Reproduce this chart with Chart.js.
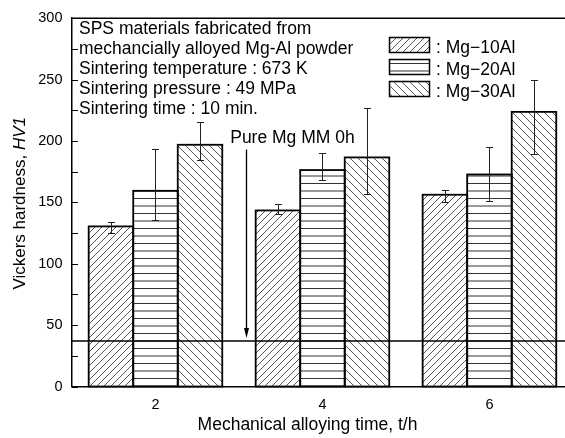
<!DOCTYPE html>
<html>
<head>
<meta charset="utf-8">
<script src="https://cdn.jsdelivr.net/npm/chart.js@4.4.1/dist/chart.umd.min.js"></script>
<style>
  html, body { margin: 0; padding: 0; background: #fff; overflow: hidden; }
  canvas { display: block; }
</style>
</head>
<body>
<canvas id="hardnessChart" width="565" height="438"></canvas>
<script>
// data
const alloyTimes = [2, 4, 6];
const seriesNames = ['Mg−10Al', 'Mg−20Al', 'Mg−30Al'];
const mg10Al = [130.4, 143.4, 156.2];
const mg20Al = [159.4, 176.3, 172.7];
const mg30Al = [196.9, 186.6, 223.7];
const mg10AlErrUp = [3.3, 5.4, 3.5];
const mg10AlErrDown = [5.4, 2.7, 6.2];
const mg20AlErrUp = [34.2, 13.6, 22.5];
const mg20AlErrDown = [24.1, 8.2, 21.7];
const mg30AlErrUp = [18.2, 39.9, 25.6];
const mg30AlErrDown = [12.7, 29.9, 34.4];
const pureMgHV = 37;
const yTicks = [0, 50, 100, 150, 200, 250, 300];
const xTicks = [2, 4, 6];
const noteLines = [
  'SPS materials fabricated from',
  'mechancially alloyed Mg-Al powder',
  'Sintering temperature : 673 K',
  'Sintering pressure : 49 MPa',
  'Sintering time : 10 min.'
];
const arrowLabel = 'Pure Mg MM 0h';
// arrow / label anchors in data units
const arrowX = 3.086, arrowTop = 193, arrowTip = 39.5;
const labelX = 2.895, labelY = 198;

const FONT = '"Liberation Sans", Arial, sans-serif';
Chart.defaults.font.family = FONT;
Chart.defaults.color = '#000';

const canvas = document.getElementById('hardnessChart');
const ctx = canvas.getContext('2d');

function hatch(kind) {
  const s = kind === 'back' ? 8 : (kind === 'horiz' ? 15 : 7);
  const c = document.createElement('canvas');
  c.width = s; c.height = s;
  const g = c.getContext('2d');
  g.fillStyle = '#fff';
  g.fillRect(0, 0, s, s);
  g.lineWidth = 1;
  g.beginPath();
  if (kind === 'fwd') {
    g.strokeStyle = '#555';
    g.moveTo(-1, s + 1); g.lineTo(s + 1, -1);
    g.moveTo(-1, 1); g.lineTo(1, -1);
    g.moveTo(s - 1, s + 1); g.lineTo(s + 1, s - 1);
  } else if (kind === 'back') {
    g.strokeStyle = '#555';
    g.moveTo(-1, -1); g.lineTo(s + 1, s + 1);
    g.moveTo(s - 1, -1); g.lineTo(s + 1, 1);
    g.moveTo(-1, s - 1); g.lineTo(1, s + 1);
  } else {
    g.strokeStyle = '#333';
    g.moveTo(0, 3.5); g.lineTo(s, 3.5);
    g.moveTo(0, 11); g.lineTo(s, 11);
  }
  g.stroke();
  return ctx.createPattern(c, 'repeat');
}

const patterns = [hatch('fwd'), hatch('horiz'), hatch('back')];
const values = [mg10Al, mg20Al, mg30Al];
const errUp = [mg10AlErrUp, mg20AlErrUp, mg30AlErrUp];
const errDown = [mg10AlErrDown, mg20AlErrDown, mg30AlErrDown];

const datasets = values.map((vals, i) => ({
  label: seriesNames[i],
  data: alloyTimes.map((t, j) => ({ x: t, y: vals[j] })),
  backgroundColor: patterns[i],
  borderWidth: 0,
  categoryPercentage: 0.8,
  barPercentage: 1.0
}));

const overlay = {
  id: 'overlay',
  afterDatasetsDraw(chart) {
    const { ctx, chartArea: a, scales: { x, y } } = chart;
    ctx.save();

    // bar outlines, centred on the bar edges so neighbours share one line
    ctx.strokeStyle = '#000';
    ctx.lineWidth = 1.8;
    chart.data.datasets.forEach((ds, i) => {
      chart.getDatasetMeta(i).data.forEach((bar) => {
        const { x: bx, y: by, base, width } = bar.getProps(['x', 'y', 'base', 'width'], true);
        ctx.strokeRect(bx - width / 2, by, width, base - by);
      });
    });

    // error bars
    ctx.strokeStyle = '#222';
    ctx.lineWidth = 1;
    chart.data.datasets.forEach((ds, i) => {
      chart.getDatasetMeta(i).data.forEach((bar, j) => {
        const v = ds.data[j].y;
        const px = Math.round(bar.x) + 0.5;
        const yt = Math.round(y.getPixelForValue(v + errUp[i][j])) + 0.5;
        const yb = Math.round(y.getPixelForValue(v - errDown[i][j])) + 0.5;
        ctx.beginPath();
        ctx.moveTo(px, yt); ctx.lineTo(px, yb);
        ctx.moveTo(px - 3.5, yt); ctx.lineTo(px + 3.5, yt);
        ctx.moveTo(px - 3.5, yb); ctx.lineTo(px + 3.5, yb);
        ctx.stroke();
      });
    });

    // pure Mg reference line
    const yr = y.getPixelForValue(pureMgHV);
    ctx.strokeStyle = '#000';
    ctx.lineWidth = 1.5;
    ctx.beginPath();
    ctx.moveTo(a.left, yr); ctx.lineTo(a.right, yr);
    ctx.stroke();

    // arrow
    const ax = Math.round(x.getPixelForValue(arrowX)) + 0.5;
    const a0 = y.getPixelForValue(arrowTop);
    const a1 = y.getPixelForValue(arrowTip);
    ctx.lineWidth = 1.3;
    ctx.beginPath();
    ctx.moveTo(ax, a0); ctx.lineTo(ax, a1 - 8);
    ctx.stroke();
    ctx.fillStyle = '#000';
    ctx.beginPath();
    ctx.moveTo(ax - 2.5, a1 - 10);
    ctx.lineTo(ax + 2.5, a1 - 10);
    ctx.lineTo(ax, a1);
    ctx.closePath();
    ctx.fill();

    // top frame
    ctx.lineWidth = 1.5;
    ctx.beginPath();
    ctx.moveTo(a.left, a.top); ctx.lineTo(a.right, a.top);
    ctx.stroke();

    // inward y ticks, major and minor
    ctx.lineWidth = 1;
    ctx.beginPath();
    yTicks.forEach((v, k) => {
      const py = Math.round(y.getPixelForValue(v)) + 0.5;
      ctx.moveTo(a.left, py); ctx.lineTo(a.left + 6, py);
      if (k < yTicks.length - 1) {
        const pm = Math.round(y.getPixelForValue((v + yTicks[k + 1]) / 2)) + 0.5;
        ctx.moveTo(a.left, pm); ctx.lineTo(a.left + 6, pm);
      }
    });
    ctx.stroke();
    ctx.restore();
  },
  afterDraw(chart) {
    const { ctx, scales: { x, y } } = chart;
    ctx.save();
    ctx.fillStyle = '#000';
    ctx.textBaseline = 'alphabetic';

    // conditions note
    ctx.font = '17.5px ' + FONT;
    ctx.textAlign = 'left';
    noteLines.forEach((line, i) => ctx.fillText(line, 79, 34.3 + i * 19.8));

    // arrow label
    ctx.fillText(arrowLabel, x.getPixelForValue(labelX), y.getPixelForValue(labelY));

    // legend
    const rowTops = [37.5, 59.5, 81.5];
    seriesNames.forEach((name, i) => {
      ctx.fillStyle = patterns[i];
      ctx.fillRect(389.5, rowTops[i], 40, 15);
      ctx.strokeStyle = '#000';
      ctx.lineWidth = 1.5;
      ctx.strokeRect(389.5, rowTops[i], 40, 15);
      ctx.fillStyle = '#000';
      ctx.fillText(': ' + name, 436, rowTops[i] + 15);
    });

    // x title
    ctx.textAlign = 'center';
    ctx.fillText('Mechanical alloying time, t/h', 307.5, 430);

    // y title with italic HV1
    const normal = 'Vickers hardness, ';
    const ital = 'HV1';
    ctx.font = '17px ' + FONT;
    const w1 = ctx.measureText(normal).width;
    ctx.font = 'italic 17px ' + FONT;
    const w2 = ctx.measureText(ital).width;
    ctx.translate(25, 203.3);
    ctx.rotate(-Math.PI / 2);
    ctx.textAlign = 'left';
    ctx.font = '17px ' + FONT;
    ctx.fillText(normal, -(w1 + w2) / 2, 0);
    ctx.font = 'italic 17px ' + FONT;
    ctx.fillText(ital, -(w1 + w2) / 2 + w1, 0);
    ctx.restore();
  }
};

new Chart(ctx, {
  type: 'bar',
  data: { datasets },
  options: {
    responsive: false,
    animation: false,
    devicePixelRatio: 1,
    layout: { padding: { left: 0, top: 18, right: 0, bottom: 0 } },
    plugins: {
      legend: { display: false },
      tooltip: { enabled: false }
    },
    scales: {
      x: {
        type: 'linear',
        min: 1,
        max: 6.905,
        offset: false,
        grid: { display: false, drawTicks: false, offset: false },
        border: { display: true, color: '#000', width: 1.5 },
        afterBuildTicks: (scale) => { scale.ticks = xTicks.map(v => ({ value: v })); },
        afterFit: (scale) => { scale.height = 51.5; },
        ticks: { padding: 10, font: { size: 14.5 }, color: '#000' }
      },
      y: {
        min: 0,
        max: 300,
        grid: { display: false, drawTicks: false },
        border: { display: true, color: '#000', width: 1.5 },
        afterBuildTicks: (scale) => { scale.ticks = yTicks.map(v => ({ value: v })); },
        afterFit: (scale) => { scale.width = 72; },
        ticks: { padding: 9.5, font: { size: 14.5 }, color: '#000' }
      }
    }
  },
  plugins: [overlay]
});
</script>
</body>
</html>
